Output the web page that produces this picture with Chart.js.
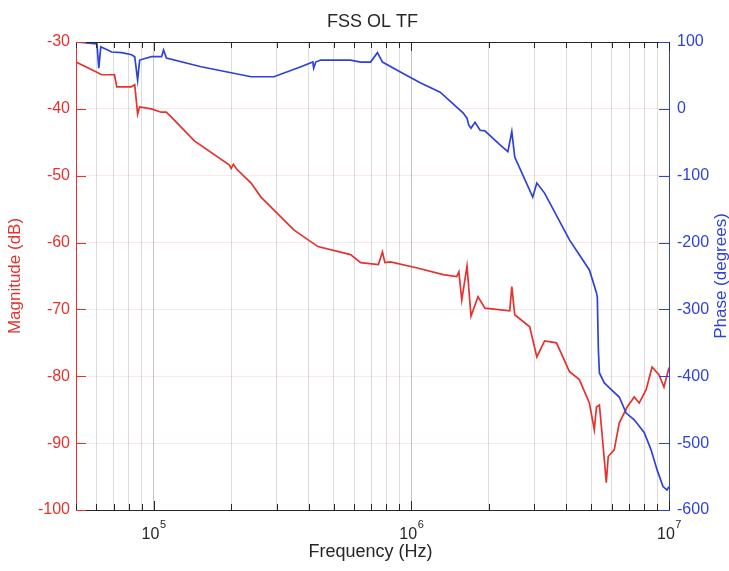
<!DOCTYPE html>
<html>
<head>
<meta charset="utf-8">
<title>FSS OL TF</title>
<script src="https://cdn.jsdelivr.net/npm/chart.js@4.4.1/dist/chart.umd.min.js"></script>
<style>
  html, body { margin: 0; padding: 0; background: #fff; }
  #wrap { width: 729px; height: 571px; }
</style>
</head>
<body>
<div id="wrap"><canvas id="bode" width="729" height="571"></canvas></div>
<script>
// Open-loop transfer function of the FSS loop: magnitude (dB) and phase (deg) vs frequency (Hz)
const magFreq = [5.0e4, 6.3e4, 7.05e4, 7.2e4, 8.2e4, 8.45e4, 8.67e4, 8.83e4, 9.8e4, 1.07e5,
  1.12e5, 1.17e5, 1.44e5, 1.97e5, 2.0e5, 2.04e5, 2.1e5, 2.39e5, 2.61e5, 3.5e5,
  4.34e5, 5.81e5, 6.36e5, 7.45e5, 7.73e5, 7.9e5, 8.3e5, 1.055e6, 1.33e6, 1.5e6,
  1.53e6, 1.57e6, 1.645e6, 1.705e6, 1.815e6, 1.93e6, 2.41e6, 2.455e6, 2.52e6, 2.88e6,
  3.07e6, 3.29e6, 3.66e6, 4.11e6, 4.49e6, 4.91e6, 5.13e6, 5.23e6, 5.37e6, 5.51e6,
  5.71e6, 5.81e6, 6.13e6, 6.41e6, 6.88e6, 7.33e6, 7.66e6, 8.15e6, 8.6e6, 9.15e6,
  9.56e6, 1.0e7];
const magDb = [-33.0, -34.9, -34.9, -36.7, -36.7, -36.4, -40.8, -39.7, -40.0, -40.5,
  -40.5, -41.2, -44.8, -48.4, -48.9, -48.3, -49.0, -51.1, -53.2, -58.1,
  -60.6, -61.8, -63.0, -63.3, -61.4, -63.0, -62.9, -63.8, -64.8, -65.1,
  -64.4, -68.6, -63.5, -71.0, -68.1, -69.8, -70.2, -66.6, -70.8, -72.6,
  -77.1, -74.7, -75.0, -79.3, -80.5, -84.0, -88.0, -84.6, -84.3, -89.0,
  -95.9, -92.0, -91.0, -87.0, -84.6, -83.1, -84.0, -82.0, -78.6, -79.8,
  -81.6, -78.7];

const phaseFreq = [5.0e4, 5.76e4, 6.03e4, 6.13e4, 6.24e4, 6.88e4, 7.52e4, 8.22e4, 8.45e4, 8.67e4,
  8.83e4, 9.82e4, 1.074e5, 1.093e5, 1.122e5, 1.53e5, 2.0e5, 2.39e5, 2.93e5, 3.73e5,
  4.15e5, 4.18e5, 4.26e5, 4.45e5, 5.81e5, 6.36e5, 6.95e5, 7.39e5, 7.73e5, 9.07e5,
  1.083e6, 1.294e6, 1.588e6, 1.645e6, 1.67e6, 1.705e6, 1.767e6, 1.85e6, 1.93e6, 2.21e6,
  2.37e6, 2.455e6, 2.52e6, 2.96e6, 3.07e6, 3.29e6, 4.11e6, 4.91e6, 5.23e6, 5.27e6,
  5.32e6, 5.37e6, 5.61e6, 5.97e6, 6.41e6, 6.82e6, 7.33e6, 8.01e6, 8.52e6, 8.99e6,
  9.48e6, 9.82e6, 1.0e7];
const phaseDeg = [100, 98, 97, 61, 93, 85, 84, 81, 78, 43,
  73, 78, 78, 88, 76, 63, 54, 48, 48, 63,
  70, 61, 70, 73, 73, 70, 70, 84, 70, 55,
  39, 25, -6, -14, -24, -29, -20, -32, -33, -54,
  -64, -34, -72, -132, -111, -126, -196, -241, -275, -281,
  -360, -395, -410, -420, -431, -455, -465, -484, -510, -540,
  -565, -570, -565];

// axis ranges and tick labels
const freqMin = 5e4, freqMax = 1e7;
const decadeExps = [5, 6, 7];
const magTicks = [-100, -90, -80, -70, -60, -50, -40, -30];
const phaseTicks = [-600, -500, -400, -300, -200, -100, 0, 100];

const FONT = "'Liberation Sans', Arial, Helvetica, sans-serif";
const RED = '#e5322e';
const BLUE = '#2f42d8';
const INK = '#262626';

// every 1..9 x 10^n line inside the frequency range
const gridFreqs = [];
for (let d = 1e4; d <= 1e7; d *= 10) {
  for (let m = 1; m <= 9; m++) {
    const f = m * d;
    if (f >= freqMin && f <= freqMax) gridFreqs.push(f);
  }
}
const isDecade = f => Math.abs(Math.log10(f) - Math.round(Math.log10(f))) < 1e-9;

const toPoints = (xs, ys) => xs.map((v, i) => ({ x: v, y: ys[i] }));

// frame ticks, decade labels and titles
const bodeFrame = {
  id: 'bodeFrame',
  afterDraw(chart) {
    const { ctx, chartArea: a } = chart;
    const { x, y, y1 } = chart.scales;
    const seg = (x0, y0, x2, y2) => { ctx.beginPath(); ctx.moveTo(x0, y0); ctx.lineTo(x2, y2); ctx.stroke(); };
    ctx.save();
    ctx.lineWidth = 1;

    ctx.strokeStyle = INK;
    seg(a.left, a.top + 0.5, a.right, a.top + 0.5);
    gridFreqs.forEach(f => {
      const px = Math.round(x.getPixelForValue(f)) + 0.5;
      const len = isDecade(f) ? 9 : 6;
      seg(px, a.top, px, a.top + len);
      seg(px, a.bottom, px, a.bottom - len);
    });

    ctx.strokeStyle = RED;
    magTicks.forEach(v => {
      const py = Math.round(y.getPixelForValue(v)) + 0.5;
      seg(a.left, py, a.left + 10, py);
    });
    ctx.strokeStyle = BLUE;
    phaseTicks.forEach(v => {
      const py = Math.round(y1.getPixelForValue(v)) + 0.5;
      seg(a.right - 10, py, a.right, py);
    });

    // 10^n under each decade
    ctx.fillStyle = INK;
    ctx.textBaseline = 'alphabetic';
    ctx.textAlign = 'left';
    decadeExps.forEach(e => {
      const px = x.getPixelForValue(Math.pow(10, e));
      ctx.font = '16px ' + FONT;
      const wb = ctx.measureText('10').width;
      ctx.font = '11px ' + FONT;
      const we = ctx.measureText(String(e)).width;
      const x0 = px - (wb + we) / 2;
      ctx.font = '16px ' + FONT;
      ctx.fillText('10', x0, a.bottom + 29);
      ctx.font = '11px ' + FONT;
      ctx.fillText(String(e), x0 + wb + 0.5, a.bottom + 18);
    });

    const midX = (a.left + a.right) / 2;
    const midY = (a.top + a.bottom) / 2;
    ctx.font = '18px ' + FONT;
    ctx.textAlign = 'center';
    ctx.fillStyle = INK;
    ctx.fillText('FSS OL TF', midX, 27);
    ctx.fillText('Frequency (Hz)', midX - 2, a.bottom + 47);

    ctx.font = '17px ' + FONT;
    ctx.textBaseline = 'middle';
    ctx.save();
    ctx.translate(15, midY);
    ctx.rotate(-Math.PI / 2);
    ctx.fillStyle = RED;
    ctx.fillText('Magnitude (dB)', 0, 0);
    ctx.restore();

    ctx.save();
    ctx.translate(721, midY);
    ctx.rotate(-Math.PI / 2);
    ctx.fillStyle = BLUE;
    ctx.fillText('Phase (degrees)', 0, 0);
    ctx.restore();

    ctx.restore();
  }
};

new Chart(document.getElementById('bode'), {
  type: 'line',
  data: {
    datasets: [
      {
        label: 'Phase',
        data: toPoints(phaseFreq, phaseDeg),
        yAxisID: 'y1',
        borderColor: BLUE,
        borderWidth: 1.7,
        pointRadius: 0,
        tension: 0
      },
      {
        label: 'Magnitude',
        data: toPoints(magFreq, magDb),
        yAxisID: 'y',
        borderColor: RED,
        borderWidth: 1.7,
        pointRadius: 0,
        tension: 0
      }
    ]
  },
  options: {
    responsive: false,
    animation: false,
    devicePixelRatio: 1,
    layout: { padding: { top: 42, left: 0, right: 0, bottom: 0 } },
    plugins: {
      legend: { display: false },
      title: { display: false },
      tooltip: { enabled: false }
    },
    scales: {
      x: {
        type: 'logarithmic',
        position: 'bottom',
        min: freqMin,
        max: freqMax,
        afterBuildTicks: scale => { scale.ticks = gridFreqs.map(v => ({ value: v })); },
        afterFit: scale => { scale.height = 61; },
        ticks: { display: false, autoSkip: false },
        grid: {
          drawTicks: false,
          lineWidth: 1,
          color: c => (c.tick && isDecade(c.tick.value)) ? '#c4c4c4' : '#dcdcdc'
        },
        border: { color: INK, width: 1 }
      },
      y: {
        type: 'linear',
        position: 'left',
        min: -100,
        max: -30,
        afterFit: scale => { scale.width = 76; },
        ticks: { stepSize: 10, color: RED, padding: 6, font: { family: FONT, size: 16 } },
        grid: { drawTicks: false, color: 'rgba(230,110,110,0.16)' },
        border: { color: RED, width: 1 }
      },
      y1: {
        type: 'linear',
        position: 'right',
        min: -600,
        max: 100,
        afterFit: scale => { scale.width = 60; },
        ticks: { stepSize: 100, color: BLUE, padding: 8, font: { family: FONT, size: 16 } },
        grid: { drawTicks: false, drawOnChartArea: false },
        border: { color: BLUE, width: 1 }
      }
    }
  },
  plugins: [bodeFrame]
});
</script>
</body>
</html>
